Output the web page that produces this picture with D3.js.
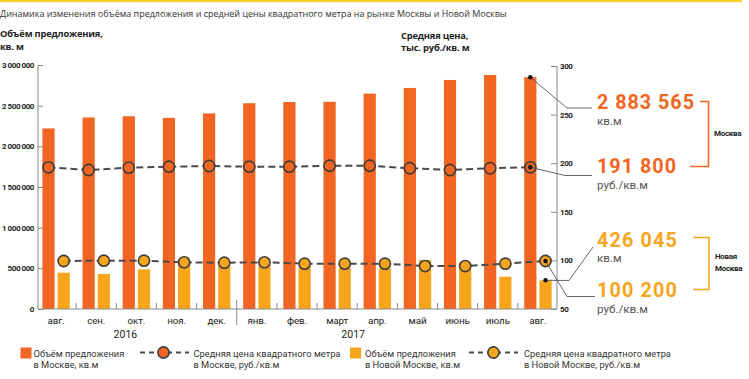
<!DOCTYPE html>
<html><head><meta charset="utf-8">
<script src="https://cdn.jsdelivr.net/npm/d3@7"></script>
<style>body{margin:0;background:#fff}svg{display:block}</style>
</head><body>
<svg id="c" width="749" height="379"></svg>
<script>
const months = ["авг.","сен.","окт.","ноя.","дек.","янв.","фев.","март","апр.","май","июнь","июль","авг."];
const moscowVolume = [2220000,2355000,2370000,2350000,2405000,2530000,2545000,2548000,2648000,2718000,2816000,2877000,2850000];
const newMoscowVolume = [446000,430000,488000,545000,540000,540000,520000,505000,500000,602000,500000,397000,353000];
const moscowPrice = [195.8,193.0,195.4,196.4,197.1,196.4,196.4,197.4,197.4,194.8,193.0,194.8,195.8];
const newMoscowPrice = [99.4,99.7,99.7,98.0,97.6,98.0,96.6,96.6,96.6,94.2,94.2,96.6,99.4];
const leftTicks = [0,500000,1000000,1500000,2000000,2500000,3000000];
const rightTicks = [50,100,150,200,250,300];
const years = ["2016","2017"];

const ORANGE = "#F26522", YELLOW = "#F9A51B", DARK = "#3d3d3d", GREY = "#8a8a8a", TXT = "#333";
const svg = d3.select("#c");
const keys = months.map((m,i)=>i);

const x = d3.scaleBand().domain(keys).range([36,558]);
const yL = d3.scaleLinear().domain([0,3000000]).range([309,65]);
const yR = d3.scaleLinear().domain([50,300]).range([309,66]);
const bw = 12.2, gap = 3;
const off = (x.bandwidth() - (2*bw+gap))/2;
const xo = i => x(i)+off;
const xy = i => x(i)+off+bw+gap;

function sty(sel,o){for(const k in o) sel.style(k,o[k]); return sel;}
function fitSize(sel, base, target){
  sel.style("font-size", base+"px");
  const w = sel.node().getComputedTextLength();
  const s = base*target/w;
  sel.style("font-size", s.toFixed(2)+"px");
  return s;
}
function fitSpacing(sel, target){
  const w = sel.node().getComputedTextLength();
  const n = sel.text().length;
  sel.style("letter-spacing", ((target-w)/n).toFixed(2)+"px");
}

// top strip
svg.append("rect").attr("x",0).attr("y",0).attr("width",742).attr("height",2.2).attr("fill","#F8CF2F");

// title
const title = svg.append("text").attr("x",0).attr("y",17).attr("fill",TXT)
  .style("font-family","Open Sans")
  .text("Динамика изменения объёма предложения и средней цены квадратного метра на рынке Москвы и Новой Москвы");
fitSize(title, 11, 507);

// axis titles
const bold = {"font-family":"Open Sans","font-weight":"bold","letter-spacing":"-0.2px"};
const t1 = sty(svg.append("text").attr("x",0).attr("y",37).attr("fill","#222").text("Объём предложения,"),bold);
const tsz = fitSize(t1, 10, 103);
sty(svg.append("text").attr("x",0).attr("y",50).attr("fill","#222").text("кв. м"),bold).style("font-size",tsz+"px");
sty(svg.append("text").attr("x",401).attr("y",39).attr("fill","#222").text("Средняя цена,"),bold).style("font-size",tsz+"px");
sty(svg.append("text").attr("x",401).attr("y",51).attr("fill","#222").text("тыс. руб./кв. м"),bold).style("font-size",tsz+"px");

// bars
svg.append("g").selectAll("rect").data(keys).join("rect")
  .attr("x",i=>xo(i)).attr("width",bw)
  .attr("y",i=>yL(moscowVolume[i])).attr("height",i=>yL(0)-yL(moscowVolume[i]))
  .attr("fill",ORANGE);
svg.append("g").selectAll("rect").data(keys).join("rect")
  .attr("x",i=>xy(i)).attr("width",bw)
  .attr("y",i=>yL(newMoscowVolume[i])).attr("height",i=>yL(0)-yL(newMoscowVolume[i]))
  .attr("fill",YELLOW);

const tickFont = {"font-family":"Roboto","font-weight":"bold","font-size":"8px","letter-spacing":"-0.45px"};
const axL = svg.append("g").attr("transform","translate(38,0)")
  .call(d3.axisRight(yL).tickValues(leftTicks).tickSize(5).tickFormat(d=>d3.format(",")(d).replace(/,/g," ")));
axL.select(".domain").attr("stroke",GREY).attr("d","M0,65V309");
axL.selectAll(".tick line").attr("stroke",GREY);
sty(axL.selectAll(".tick text").attr("x",-4).attr("text-anchor","end").attr("fill","#222"),tickFont);

const axR = svg.append("g").attr("transform","translate(557,0)")
  .call(d3.axisLeft(yR).tickValues(rightTicks).tickSize(6));
axR.select(".domain").attr("stroke",GREY).attr("d","M0,66V309");
axR.selectAll(".tick line").attr("stroke",GREY);
sty(axR.selectAll(".tick text").attr("x",3).attr("text-anchor","start").attr("fill","#222"),tickFont);

// baseline + x ticks
svg.append("line").attr("x1",38).attr("x2",557).attr("y1",309).attr("y2",309).attr("stroke",GREY);
svg.append("g").selectAll("line").data(keys.slice(1)).join("line")
  .attr("x1",i=>x(i)).attr("x2",i=>x(i))
  .attr("y1",i=> i===5 ? 325 : 303).attr("y2",i=> i===5 ? 300 : 309)
  .attr("stroke",GREY);
svg.append("g").selectAll("text").data(keys).join("text")
  .attr("x",i=>x(i)+x.bandwidth()/2).attr("y",324).attr("text-anchor","middle").attr("fill","#222")
  .style("font-family","Roboto").style("font-size","9.8px").style("letter-spacing","-0.1px").text(i=>months[i]);
svg.append("text").attr("x",x(2)+x.bandwidth()/2-11).attr("y",338).attr("text-anchor","middle").attr("fill","#222")
  .style("font-family","Roboto").style("font-size","10.5px").text(years[0]);
svg.append("text").attr("x",x(7)+x.bandwidth()/2+16).attr("y",338).attr("text-anchor","middle").attr("fill","#222")
  .style("font-family","Roboto").style("font-size","10.5px").text(years[1]);

// price lines
function priceLine(vals, cx, fill){
  const line = d3.line().x(i=>cx(i)+bw/2).y(i=>yR(vals[i]));
  svg.append("path").attr("d",line(keys)).attr("fill","none").attr("stroke","#4a4a4a")
    .attr("stroke-width",2).attr("stroke-dasharray","7,4");
  svg.append("g").selectAll("circle").data(keys).join("circle")
    .attr("cx",i=>cx(i)+bw/2).attr("cy",i=>yR(vals[i])).attr("r",5.6)
    .attr("fill",fill).attr("stroke",DARK).attr("stroke-width",1.6);
}
priceLine(moscowPrice, xo, ORANGE);
priceLine(newMoscowPrice, xy, YELLOW);

// annotations
const last = 12;
function leader(px,py,pts){
  svg.append("path").attr("d","M"+px+","+py+pts.map(p=>"L"+p[0]+","+p[1]).join(""))
    .attr("fill","none").attr("stroke","#555").attr("stroke-width",0.9);
  svg.append("circle").attr("cx",px).attr("cy",py).attr("r",2.2).attr("fill","#111");
}
const mxo = xo(last)+bw/2, mxy = xy(last)+bw/2;
leader(mxo, yL(moscowVolume[last]), [[567,108],[592,108]]);
leader(mxo, yR(moscowPrice[last]), [[565,175.5],[592,175.5]]);
leader(mxy, yL(newMoscowVolume[last]), [[569,280.5],[593,247]]);
leader(mxy, yR(newMoscowPrice[last]), [[567,296.5],[595,296.5]]);

function big(t,y,col,w){
  const s = svg.append("text").attr("x",597).attr("y",y).attr("fill",col)
    .style("font-family","Roboto").style("font-weight","bold").style("font-size","19.8px").text(t);
  fitSpacing(s, w);
}
function small(t,y){
  svg.append("text").attr("x",597).attr("y",y).attr("fill","#555")
    .style("font-family","Roboto").style("font-size","11.6px").text(t);
}
big("2 883 565",109,ORANGE,98); small("кв.м",124.6);
big("191 800",173.3,ORANGE,80); small("руб./кв.м",188.9);
big("426 045",246.7,YELLOW,81); small("кв.м",262.3);
big("100 200",297.3,YELLOW,81); small("руб./кв.м",312.9);

// brackets
svg.append("path").attr("d","M700,101.5H708.5V166.5H690").attr("fill","none").attr("stroke",ORANGE).attr("stroke-width",1.6);
svg.append("path").attr("d","M693,237.5H709V289.5H693").attr("fill","none").attr("stroke",YELLOW).attr("stroke-width",1.6);
const lbl = {"font-family":"Roboto","font-weight":"bold","font-size":"8px","letter-spacing":"-0.3px"};
sty(svg.append("text").attr("x",714).attr("y",136).attr("fill","#222").text("Москва"),lbl);
sty(svg.append("text").attr("x",715).attr("y",259).attr("fill","#222").text("Новая"),lbl);
sty(svg.append("text").attr("x",715).attr("y",271).attr("fill","#222").text("Москва"),lbl);

// legend
const lg = svg.append("g");
const probe = lg.append("text").style("font-family","Roboto").text("Средняя цена квадратного метра");
const lsz = fitSize(probe, 10, 147);
probe.remove();
const lt = {"font-family":"Roboto","font-size":lsz.toFixed(2)+"px"};
function ltext(x0,l1,l2){
  sty(lg.append("text").attr("x",x0).attr("y",357).attr("fill",TXT).text(l1),lt);
  sty(lg.append("text").attr("x",x0).attr("y",368).attr("fill",TXT).text(l2),lt);
}
lg.append("rect").attr("x",20.5).attr("y",347.5).attr("width",11).attr("height",11).attr("fill",ORANGE);
ltext(33.5,"Объём предложения","в Москве, кв.м");
function lline(x1,x2,cx,fill){
  lg.append("line").attr("x1",x1).attr("x2",x2).attr("y1",352.5).attr("y2",352.5)
    .attr("stroke","#4a4a4a").attr("stroke-width",2).attr("stroke-dasharray","5,4");
  lg.append("circle").attr("cx",cx).attr("cy",352.5).attr("r",5.6).attr("fill",fill).attr("stroke",DARK).attr("stroke-width",1.6);
}
lline(140,189,163.5,ORANGE);
ltext(193.5,"Средняя цена квадратного метра","в Москве, руб./кв.м");
lg.append("rect").attr("x",350).attr("y",347.5).attr("width",11).attr("height",11).attr("fill",YELLOW);
ltext(365,"Объём предложения","в Новой Москве, кв.м");
lline(469,518,493.5,YELLOW);
ltext(524,"Средняя цена квадратного метра","в Новой Москве, руб./кв.м");
</script>
</body></html>
